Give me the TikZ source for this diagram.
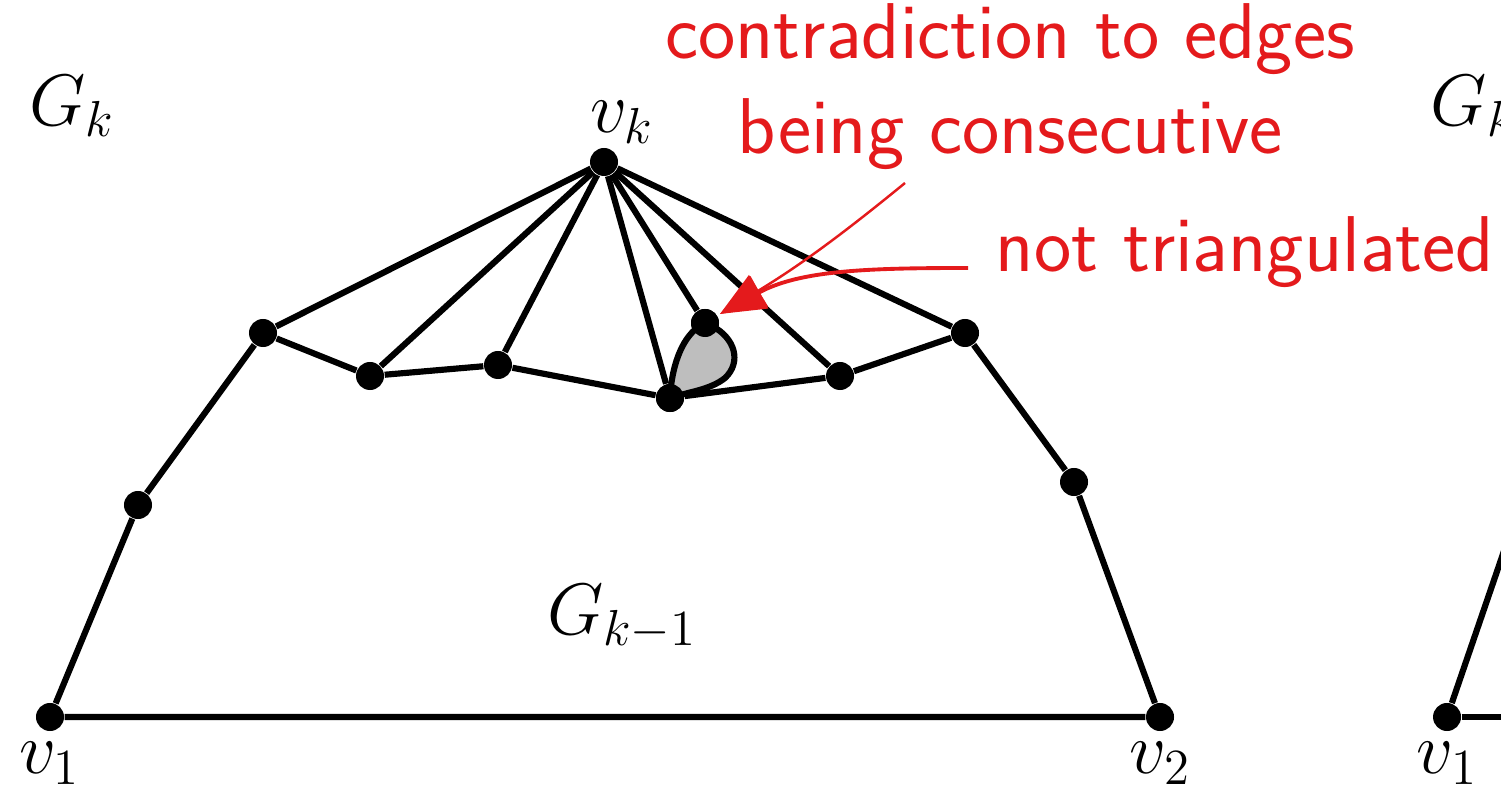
\documentclass[tikz,border=0pt]{standalone}
\usetikzlibrary{arrows.meta}
\definecolor{myred}{RGB}{228,26,28}
\definecolor{blobgray}{RGB}{190,190,190}
\begin{document}
\begin{tikzpicture}[x=0.01cm,y=-0.01cm,
  vtx/.style={circle,fill=black,inner sep=0pt,minimum size=0.28cm},
  edge/.style={line width=1.75pt,line join=round},
  lbl/.style={inner sep=0pt,font=\fontsize{20.5}{25}\selectfont},
  redtxt/.style={inner sep=0pt,text=myred,font=\sffamily\fontsize{22.5}{25}\selectfont},
  redarrow/.style={draw=myred,-{Triangle[length=0.45cm,width=0.36cm]}}]
\useasboundingbox (0,0) rectangle (1501,798);
\clip (0,0) rectangle (1501,798);
% vertices
\node[vtx] (vk) at (604,162) {};
\node[vtx] (a) at (263,333) {};
\node[vtx] (b) at (138,505) {};
\node[vtx] (v1) at (50,717) {};
\node[vtx] (v2) at (1160,717) {};
\node[vtx] (c) at (1074,482) {};
\node[vtx] (d) at (965,333) {};
\node[vtx] (i1) at (370,376) {};
\node[vtx] (i2) at (498,365) {};
\node[vtx] (i3) at (670,398) {};
\node[vtx] (i4) at (840,376) {};
\node[vtx] (p) at (705,323) {};
% blob
\draw[edge,fill=blobgray] (i3.center) .. controls (672,360) and (685,335) .. (700,326)
  .. controls (705,322) and (708,322) .. (712,326)
  .. controls (735,338) and (742,362) .. (725,378)
  .. controls (710,390) and (688,392) .. (i3.center);
\node[vtx] at (p) {};
\node[vtx] at (i3) {};
% edges
\draw[edge] (a) -- (b) -- (v1) -- (v2) -- (c) -- (d);
\draw[edge] (a) -- (i1) -- (i2) -- (i3) -- (i4) -- (d);
\foreach \t in {a,i1,i2,i3,p,i4,d} \draw[edge] (vk) -- (\t);
% right partial figure
\node[vtx] (w1) at (1447,717) {};
\coordinate (wup) at (1505,548);
\coordinate (wright) at (1510,717);
\draw[edge] (w1) -- (wup);
\draw[edge] (w1) -- (wright);
% labels
\node[lbl] (lGk) at (72,106) {$G_k$};
\node[lbl] (lvk) at (622,122) {$v_k$};
\node[lbl] (lGk1) at (622,617) {$G_{k-1}$};
\node[lbl] (lv1) at (50,763) {$v_1$};
\node[lbl] (lv2) at (1160,763) {$v_2$};
\node[lbl] (lw1) at (1447,763) {$v_1$};
\node[lbl,anchor=west] (lGk2) at (1430,106) {$G_k$};
% red annotations
\node[redtxt,align=center] (t1) at (1010,87) {contradiction to edges\\[2pt]being consecutive};
\node[redtxt] (t2) at (1245,252) {not triangulated};
\coordinate (tip) at (720,314);
\coordinate (s1) at (905,183);
\coordinate (s2) at (968,268);
\draw[redarrow,line width=0.7pt] (s1) to[bend left=4] (tip);
\draw[redarrow,line width=1.1pt] (s2) .. controls (870,268) and (800,270) .. (tip);
\end{tikzpicture}
\end{document}
